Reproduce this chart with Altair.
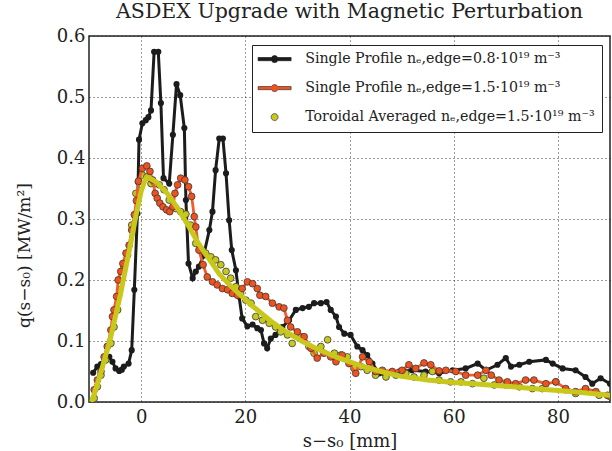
import altair as alt
import pandas as pd
import numpy as np

# ---------------- data ----------------
black_x = [-9.2, -8.4, -7.7, -7.0, -6.1, -5.5, -4.9, -4.2, -3.7, -3.3, -2.4, -1.8, -1.3, -0.7, -0.4,
           0.25, 0.9, 1.4, 1.9, 2.5, 3.3, 3.8, 4.3, 5.4, 6.1, 6.8, 7.5, 8.3, 8.6, 9.1, 9.9, 10.5,
           11.1, 12.0, 13.1, 13.7, 14.3, 15.0, 15.7, 16.3, 16.9, 17.4, 18.2, 18.8, 19.4, 20.4,
           21.4, 22.3, 23.0, 23.6, 24.2, 24.9, 25.8, 27.1, 28.4, 29.7, 31.0, 32.2, 33.2, 34.5,
           35.6, 36.4, 37.4, 38.0, 39.0, 40.2, 41.5, 42.5, 43.4, 44.4, 45.7, 47.0, 49.5, 52.0,
           54.6, 57.2, 59.8, 62.3, 64.6, 66.2, 68.4, 70.0, 71.0, 72.6, 74.5, 77.7, 79.0, 80.9,
           83.4, 85.3, 86.6, 88.2, 90.0]
black_q = [0.048, 0.058, 0.062, 0.068, 0.074, 0.066, 0.055, 0.051, 0.053, 0.058, 0.063, 0.085, 0.184,
           0.309, 0.430, 0.457, 0.462, 0.467, 0.478, 0.574, 0.574, 0.490, 0.367, 0.358, 0.438, 0.521,
           0.503, 0.449, 0.331, 0.227, 0.203, 0.214, 0.222, 0.240, 0.282, 0.312, 0.380, 0.432, 0.432,
           0.375, 0.298, 0.249, 0.216, 0.173, 0.137, 0.124, 0.127, 0.121, 0.118, 0.096, 0.088, 0.104,
           0.110, 0.123, 0.134, 0.151, 0.154, 0.156, 0.162, 0.162, 0.164, 0.151, 0.140, 0.123, 0.112,
           0.110, 0.091, 0.085, 0.077, 0.063, 0.047, 0.044, 0.050, 0.052, 0.050, 0.047, 0.052, 0.055,
           0.063, 0.052, 0.061, 0.072, 0.058, 0.061, 0.066, 0.069, 0.063, 0.055, 0.052, 0.041, 0.030,
           0.039, 0.030]

orange_x = [-9.0, -8.4, -7.7, -7.1, -6.5, -5.8, -5.5, -5.2, -4.7, -4.4, -3.9, -3.5, -2.9, -2.3, -1.8,
            -1.3, -0.9, -0.5, 0.25, 1.1, 1.7, 2.2, 2.7, 3.1, 3.6, 4.2, 4.9, 5.5, 6.1, 6.5, 7.0, 7.6,
            8.4, 9.1, 9.7, 10.2, 10.5, 11.1, 11.9, 12.7, 13.7, 14.6, 15.6, 16.6, 17.5, 18.5, 19.4,
            20.4, 21.4, 22.3, 22.8, 23.9, 25.2, 26.5, 27.4, 28.1, 28.7, 30.0, 31.3, 32.6, 33.8, 35.1,
            36.4, 37.4, 38.6, 39.9, 41.2, 42.5, 43.8, 45.0, 46.3, 48.2, 50.1, 51.4, 52.7, 54.3, 55.6,
            57.2, 58.5, 60.4, 62.3, 64.6, 66.2, 67.2, 68.7, 70.3, 71.9, 73.8, 75.4, 77.7, 79.6, 81.5,
            83.4, 85.3, 87.3, 89.5]
orange_q = [0.020, 0.036, 0.050, 0.074, 0.091, 0.118, 0.140, 0.151, 0.173, 0.200, 0.214, 0.227, 0.244,
            0.257, 0.282, 0.307, 0.330, 0.362, 0.383, 0.387, 0.378, 0.364, 0.342, 0.334, 0.326, 0.320,
            0.315, 0.312, 0.320, 0.342, 0.356, 0.367, 0.364, 0.353, 0.337, 0.304, 0.287, 0.249, 0.225,
            0.205, 0.197, 0.192, 0.186, 0.184, 0.178, 0.175, 0.186, 0.197, 0.194, 0.186, 0.175, 0.173,
            0.162, 0.156, 0.154, 0.134, 0.123, 0.115, 0.107, 0.088, 0.072, 0.080, 0.074, 0.066, 0.077,
            0.063, 0.047, 0.074, 0.066, 0.050, 0.052, 0.050, 0.052, 0.061, 0.055, 0.064, 0.061, 0.051,
            0.052, 0.050, 0.044, 0.044, 0.052, 0.044, 0.036, 0.033, 0.030, 0.036, 0.036, 0.030, 0.033,
            0.022, 0.017, 0.022, 0.017, 0.011]

yellow_x = [-9.0, -8.4, -7.7, -6.8, -5.8, -5.2, -4.5, -4.1, -3.3, -2.6, -1.8, -1.0, -0.5, 0.25, 1.1,
            1.9, 2.7, 3.5, 4.4, 5.4, 6.7, 7.6, 8.6, 9.5, 10.5, 11.5, 12.4, 13.4, 14.3, 15.3, 16.3,
            17.2, 18.2, 19.1, 20.1, 21.1, 22.0, 23.3, 24.6, 25.8, 26.8, 28.1, 29.0, 30.7, 32.2, 33.2,
            34.5, 35.8, 37.1, 38.3, 39.6, 40.9, 42.2, 43.4, 45.0, 47.0, 48.9, 50.8, 52.4, 54.3, 55.9,
            57.2, 59.4, 61.4, 63.6, 65.8, 67.8, 70.0, 72.6, 75.1, 77.0, 79.6, 81.5, 83.4, 85.3, 87.9,
            90.0]
yellow_q = [0.006, 0.025, 0.044, 0.069, 0.096, 0.123, 0.151, 0.184, 0.222, 0.241, 0.290, 0.342, 0.361,
            0.372, 0.369, 0.358, 0.358, 0.356, 0.348, 0.331, 0.317, 0.312, 0.308, 0.290, 0.260, 0.249,
            0.244, 0.238, 0.233, 0.225, 0.214, 0.203, 0.189, 0.178, 0.167, 0.162, 0.140, 0.134, 0.129,
            0.123, 0.115, 0.110, 0.096, 0.107, 0.091, 0.080, 0.091, 0.102, 0.080, 0.077, 0.074, 0.055,
            0.058, 0.052, 0.044, 0.041, 0.044, 0.047, 0.041, 0.044, 0.050, 0.036, 0.033, 0.033, 0.030,
            0.039, 0.028, 0.028, 0.025, 0.022, 0.022, 0.033, 0.020, 0.014, 0.020, 0.011, 0.009]

fit_x = [-9.5, -8.0, -6.0, -4.0, -2.0, -1.0, 0.0, 0.8, 1.5, 3.0, 5.0, 7.0, 9.0, 11.0, 13.0, 15.0,
         17.0, 19.0, 21.0, 23.0, 25.0, 28.0, 31.0, 34.0, 38.0, 42.0, 46.0, 50.0, 55.0, 60.0, 65.0,
         70.0, 75.0, 80.0, 85.0, 90.0]
fit_q = [0.000, 0.040, 0.100, 0.175, 0.260, 0.305, 0.345, 0.365, 0.368, 0.360, 0.342, 0.318, 0.290,
         0.260, 0.235, 0.210, 0.192, 0.176, 0.160, 0.146, 0.132, 0.114, 0.099, 0.086, 0.072, 0.060,
         0.050, 0.042, 0.036, 0.032, 0.029, 0.026, 0.022, 0.019, 0.015, 0.011]

series_labels = [
    "Single Profile nₑ,edge=0.8·10¹⁹ m⁻³",
    "Single Profile nₑ,edge=1.5·10¹⁹ m⁻³",
    "Toroidal Averaged nₑ,edge=1.5·10¹⁹ m⁻³",
]
x_ticks = [0, 20, 40, 60, 80]
y_ticks = [0.0, 0.1, 0.2, 0.3, 0.4, 0.5, 0.6]

# ---------------- styling ----------------
BLACK = "#1c1c1c"
ORANGE = "#f0521f"
ORANGE_LINE = "#f25c2a"
YELLOW = "#c8c81c"
EDGE = "#3a3a3a"
SERIF = "DejaVu Serif"

black_df = pd.DataFrame({"x": black_x, "q": black_q})
orange_df = pd.DataFrame({"x": orange_x, "q": orange_q})
yellow_df = pd.DataFrame({"x": yellow_x, "q": yellow_q})
fit_df = pd.DataFrame({"x": fit_x, "q": fit_q})
legend_df = pd.DataFrame({"series": series_labels})

xs = alt.Scale(domain=[-10, 90], nice=False, zero=False)
ys = alt.Scale(domain=[0, 0.6], nice=False)

X = alt.X("x:Q", scale=xs,
          axis=alt.Axis(values=x_ticks, title="s−s₀ [mm]", format="d"))
Y = alt.Y("q:Q", scale=ys,
          axis=alt.Axis(values=y_ticks, title="q(s−s₀)  [MW/m²]", format=".1f",
                        titleX=-56, titleY=219))

black_line = alt.Chart(black_df).mark_line(color=BLACK, strokeWidth=3, clip=True).encode(x=X, y=Y)
black_pts = alt.Chart(black_df).mark_point(filled=True, color=BLACK, size=38, opacity=1,
                                           clip=True).encode(x=X, y=Y)
yellow_pts = alt.Chart(yellow_df).mark_point(filled=True, fill=YELLOW, stroke=EDGE, strokeWidth=0.8,
                                             size=46, opacity=1, clip=True).encode(x=X, y=Y)
orange_line = alt.Chart(orange_df).mark_line(color=ORANGE_LINE, strokeWidth=2.8, clip=True).encode(x=X, y=Y)
orange_pts = alt.Chart(orange_df).mark_point(filled=True, fill=ORANGE, stroke=EDGE, strokeWidth=0.8,
                                             size=46, opacity=1, clip=True).encode(x=X, y=Y)
fit_line = alt.Chart(fit_df).mark_line(color=YELLOW, strokeWidth=5, clip=True).encode(x=X, y=Y)

# legend symbols (unit box of 10 px, path drawn wider): line with a dot, and a dot only
r = 0.7
h = 0.32
L = 3.3
x0 = float(np.sqrt(r * r - h * h))
line_dot = (f"M{-L},{-h}L{-x0:.4f},{-h}A{r},{r} 0 0,1 {x0:.4f},{-h}L{L},{-h}L{L},{h}L{x0:.4f},{h}"
            f"A{r},{r} 0 0,1 {-x0:.4f},{h}L{-L},{h}Z")
dot_only = f"M{-r},0A{r},{r} 0 1,0 {r},0A{r},{r} 0 1,0 {-r},0Z"

leg = alt.Legend(title=None, symbolSize=100)
legend_layer = alt.Chart(legend_df).transform_filter("false").mark_point(
    filled=True, size=100, strokeWidth=0.7, opacity=1
).encode(
    shape=alt.Shape("series:N", scale=alt.Scale(domain=series_labels,
                                                range=[line_dot, line_dot, dot_only]), legend=leg),
    fill=alt.Fill("series:N", scale=alt.Scale(domain=series_labels,
                                              range=[BLACK, ORANGE, YELLOW]), legend=leg),
    stroke=alt.Stroke("series:N", scale=alt.Scale(domain=series_labels,
                                                  range=[BLACK, EDGE, EDGE]), legend=leg),
)

chart = alt.layer(
    black_line, black_pts, yellow_pts, orange_line, orange_pts, fit_line, legend_layer
).properties(
    width=521, height=366,
    title=alt.TitleParams("ASDEX Upgrade with Magnetic Perturbation", font=SERIF, fontSize=20.5,
                          fontWeight="normal", color="#222222", offset=5),
    autosize=alt.AutoSizeParams(type="none"),
    padding={"left": 89, "top": 36, "right": 2, "bottom": 49},
).configure_view(
    stroke="#222222", strokeWidth=1.5
).configure_axis(
    labelFont=SERIF, labelFontSize=18, labelColor="#222222",
    titleFont=SERIF, titleFontSize=18, titleFontWeight="normal", titleColor="#222222",
    grid=True, gridColor="#222222", gridDash=[1, 3], gridWidth=0.9, gridOpacity=1,
    domain=False, ticks=False, labelPadding=5,
).configure_axisY(
    labelPadding=4, titleFontSize=17,
).configure_axisX(
    titlePadding=6, labelPadding=6,
).configure_legend(
    orient="none", legendX=163, legendY=9, strokeColor="#222222", fillColor="white",
    padding=7, cornerRadius=0, labelFont=SERIF, labelFontSize=14.2, labelColor="#222222",
    labelLimit=500, labelOffset=23.5, rowPadding=14, symbolStrokeWidth=0.7, symbolSize=100,
    symbolOffset=8.5,
)

chart.save("out.html", embed_options={"renderer": "svg", "actions": False})
